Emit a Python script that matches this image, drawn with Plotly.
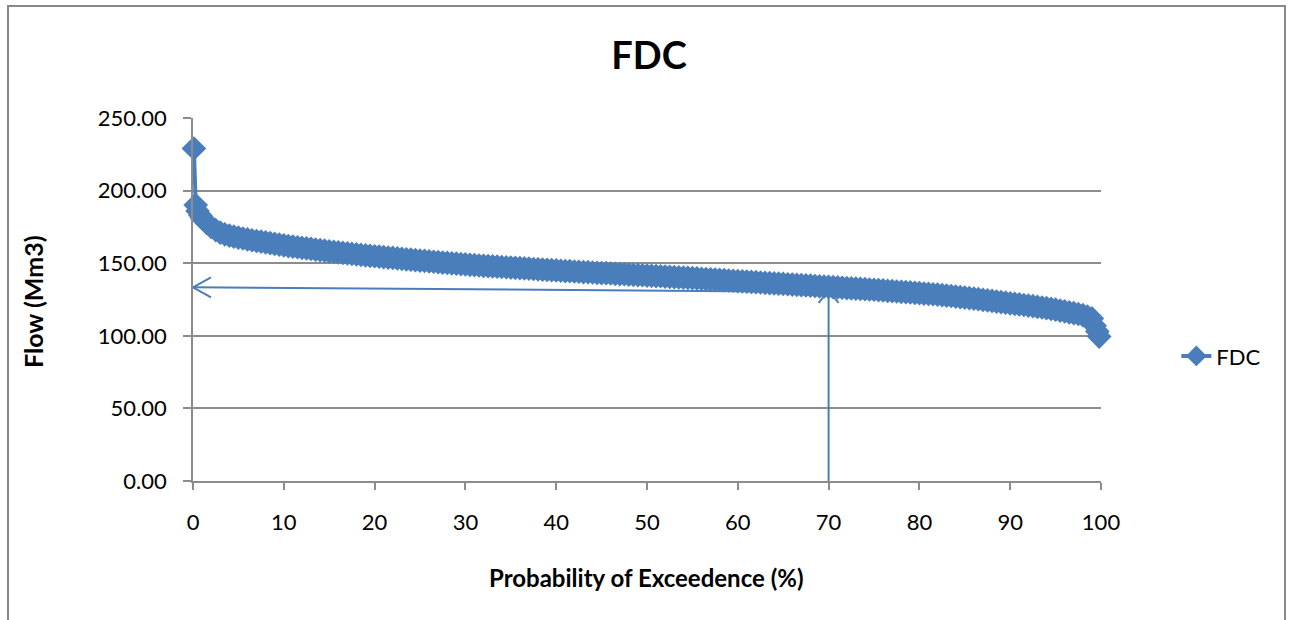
import plotly.graph_objects as go

# Flow duration curve: exceedance probability (%) and monthly flow (Mm3)
exceedance_pct = [
    0.1, 0.3, 0.5, 0.8,
    1.0, 1.5, 2.0, 2.5, 3.0, 3.5, 4.0, 4.5, 5.0, 5.5,
    6.0, 6.5, 7.0, 7.5, 8.0, 8.5, 9.0, 9.5, 10.0, 10.5,
    11.0, 11.5, 12.0, 12.5, 13.0, 13.5, 14.0, 14.5, 15.0, 15.5,
    16.0, 16.5, 17.0, 17.5, 18.0, 18.5, 19.0, 19.5, 20.0, 20.5,
    21.0, 21.5, 22.0, 22.5, 23.0, 23.5, 24.0, 24.5, 25.0, 25.5,
    26.0, 26.5, 27.0, 27.5, 28.0, 28.5, 29.0, 29.5, 30.0, 30.5,
    31.0, 31.5, 32.0, 32.5, 33.0, 33.5, 34.0, 34.5, 35.0, 35.5,
    36.0, 36.5, 37.0, 37.5, 38.0, 38.5, 39.0, 39.5, 40.0, 40.5,
    41.0, 41.5, 42.0, 42.5, 43.0, 43.5, 44.0, 44.5, 45.0, 45.5,
    46.0, 46.5, 47.0, 47.5, 48.0, 48.5, 49.0, 49.5, 50.0, 50.5,
    51.0, 51.5, 52.0, 52.5, 53.0, 53.5, 54.0, 54.5, 55.0, 55.5,
    56.0, 56.5, 57.0, 57.5, 58.0, 58.5, 59.0, 59.5, 60.0, 60.5,
    61.0, 61.5, 62.0, 62.5, 63.0, 63.5, 64.0, 64.5, 65.0, 65.5,
    66.0, 66.5, 67.0, 67.5, 68.0, 68.5, 69.0, 69.5, 70.0, 70.5,
    71.0, 71.5, 72.0, 72.5, 73.0, 73.5, 74.0, 74.5, 75.0, 75.5,
    76.0, 76.5, 77.0, 77.5, 78.0, 78.5, 79.0, 79.5, 80.0, 80.5,
    81.0, 81.5, 82.0, 82.5, 83.0, 83.5, 84.0, 84.5, 85.0, 85.5,
    86.0, 86.5, 87.0, 87.5, 88.0, 88.5, 89.0, 89.5, 90.0, 90.5,
    91.0, 91.5, 92.0, 92.5, 93.0, 93.5, 94.0, 94.5, 95.0, 95.5,
    96.0, 96.5, 97.0, 97.5, 98.0, 98.5, 99.0,
    99.3, 99.6, 99.8,
]
flow_mm3 = [
    229.0, 190.0, 186.0, 183.0,
    181.0, 177.8, 175.0, 172.8, 171.0, 169.9, 169.0, 168.3, 167.6, 167.0,
    166.4, 165.8, 165.3, 164.8, 164.3, 163.8, 163.3, 162.8, 162.3, 161.8,
    161.4, 161.0, 160.6, 160.2, 159.8, 159.4, 159.0, 158.6, 158.2, 157.9,
    157.5, 157.1, 156.8, 156.4, 156.1, 155.7, 155.4, 155.1, 154.8, 154.5,
    154.2, 153.9, 153.6, 153.3, 153.0, 152.7, 152.4, 152.1, 151.8, 151.6,
    151.3, 151.0, 150.7, 150.4, 150.2, 149.9, 149.7, 149.4, 149.2, 148.9,
    148.7, 148.4, 148.2, 148.0, 147.8, 147.6, 147.4, 147.2, 147.0, 146.8,
    146.6, 146.4, 146.2, 146.0, 145.8, 145.6, 145.4, 145.2, 145.0, 144.8,
    144.6, 144.5, 144.3, 144.1, 143.9, 143.8, 143.6, 143.4, 143.2, 143.1,
    142.9, 142.7, 142.5, 142.4, 142.2, 142.0, 141.8, 141.7, 141.5, 141.3,
    141.1, 141.0, 140.8, 140.6, 140.4, 140.2, 140.0, 139.9, 139.7, 139.5,
    139.3, 139.1, 138.9, 138.7, 138.5, 138.3, 138.1, 137.9, 137.7, 137.5,
    137.3, 137.1, 136.9, 136.7, 136.5, 136.3, 136.1, 135.9, 135.7, 135.5,
    135.3, 135.1, 134.9, 134.7, 134.5, 134.3, 134.1, 133.9, 133.7, 133.5,
    133.3, 133.1, 132.9, 132.7, 132.5, 132.3, 132.1, 131.9, 131.7, 131.5,
    131.3, 131.0, 130.8, 130.5, 130.3, 130.1, 129.9, 129.6, 129.4, 129.1,
    128.9, 128.6, 128.3, 128.0, 127.7, 127.4, 127.0, 126.7, 126.3, 126.0,
    125.6, 125.2, 124.8, 124.4, 124.0, 123.6, 123.2, 122.8, 122.4, 122.0,
    121.6, 121.2, 120.8, 120.4, 119.9, 119.5, 119.0, 118.5, 118.0, 117.4,
    116.8, 116.2, 115.6, 115.0, 114.2, 113.3, 112.0,
    107.0, 103.0, 99.5,
]

# Q70 read-off arrows
q70_pct = 70
q70_flow_at_curve = 130.9
q70_flow_read = 133.4
q70_flow_start = 130.2

y_ticks = [0, 50, 100, 150, 200, 250]
x_ticks = [0, 10, 20, 30, 40, 50, 60, 70, 80, 90, 100]

BLUE = "#4a7ebb"
GRID = "#8c8c8c"
FONT = "Lato"

# plot area geometry (px) used to size arrow heads in data units
PLOT_W, PLOT_H = 908, 363
X_PER_PX = 100 / PLOT_W
Y_PER_PX = 250 / PLOT_H

fig = go.Figure()
fig.add_trace(go.Scatter(
    x=exceedance_pct, y=flow_mm3, mode="lines+markers", name="FDC",
    line=dict(color=BLUE, width=4),
    marker=dict(symbol="diamond", size=19, color=BLUE),
    cliponaxis=False,
))

shapes = []
def seg(x0, y0, x1, y1):
    shapes.append(dict(type="line", xref="x", yref="y", x0=x0, y0=y0, x1=x1, y1=y1,
                       line=dict(color=BLUE, width=2)))

# vertical arrow from the axis up to the curve
seg(q70_pct, 0, q70_pct, q70_flow_at_curve)
seg(q70_pct, q70_flow_at_curve, q70_pct - 10 * X_PER_PX, q70_flow_at_curve - 12 * Y_PER_PX)
seg(q70_pct, q70_flow_at_curve, q70_pct + 10 * X_PER_PX, q70_flow_at_curve - 12 * Y_PER_PX)
# horizontal arrow from the curve across to the flow axis
seg(q70_pct, q70_flow_start, 0, q70_flow_read)
seg(0, q70_flow_read, 18 * X_PER_PX, q70_flow_read + 10 * Y_PER_PX)
seg(0, q70_flow_read, 18 * X_PER_PX, q70_flow_read - 10 * Y_PER_PX)

# outer chart frame
shapes.append(dict(type="rect", xref="paper", yref="paper",
                   x0=(8 - 193) / PLOT_W, x1=(1285 - 193) / PLOT_W,
                   y0=-0.6, y1=(481 - 6) / PLOT_H,
                   line=dict(color="#888888", width=2), layer="below"))

fig.update_layout(
    width=1290, height=620,
    margin=dict(l=193, r=189, t=118, b=139),
    paper_bgcolor="white", plot_bgcolor="white",
    font=dict(family=FONT, color="black", size=22),
    title=dict(text="<b>FDC</b>", x=649 / 1290, xanchor="center",
               y=1 - 56 / 620, yanchor="middle",
               font=dict(family=FONT, size=38, color="black")),
    shapes=shapes,
    showlegend=True,
    legend=dict(x=1.083, xanchor="left", y=0.344, yanchor="middle",
                font=dict(family=FONT, size=22, color="black"),
                bgcolor="rgba(0,0,0,0)"),
    annotations=[
        dict(text="<b>Probability of Exceedence (%)</b>", xref="paper", yref="paper",
             x=0.499, y=(481 - 577) / PLOT_H, xanchor="center", yanchor="middle",
             showarrow=False, font=dict(family=FONT, size=24, color="black")),
        dict(text="<b>Flow (Mm3)</b>", xref="paper", yref="paper",
             x=(33 - 193) / PLOT_W, y=(481 - 302) / PLOT_H, xanchor="center",
             yanchor="middle", textangle=-90, showarrow=False,
             font=dict(family=FONT, size=25, color="black")),
    ],
)
fig.update_xaxes(range=[0, 100], tickvals=x_ticks, showgrid=False,
                 showline=True, linecolor=GRID, linewidth=1.5,
                 ticks="outside", ticklen=7, tickcolor=GRID, tickwidth=1.5,
                 ticklabelstandoff=14, zeroline=False)
fig.update_yaxes(range=[0, 250], tickvals=y_ticks, tickformat=".2f",
                 showgrid=True, gridcolor=GRID, gridwidth=1.5,
                 showline=True, linecolor=GRID, linewidth=1.5,
                 ticks="outside", ticklen=8, tickcolor=GRID, tickwidth=1.5,
                 ticklabelstandoff=12, zeroline=False)

fig.write_html("out.html")
